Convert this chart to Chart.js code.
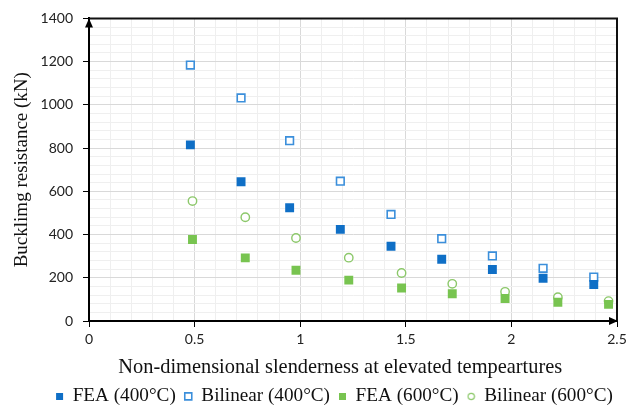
<!DOCTYPE html>
<html>
<head>
<meta charset="utf-8">
<script src="https://cdn.jsdelivr.net/npm/chart.js@4.4.1/dist/chart.umd.min.js"></script>
<style>
html, body { margin: 0; padding: 0; background: #fff; }
#wrap { width: 640px; height: 414px; }
</style>
</head>
<body>
<div id="wrap"><canvas id="chart1"></canvas></div>
<script>
// values
const fea400X = [0.48, 0.72, 0.95, 1.19, 1.43, 1.67, 1.91, 2.15, 2.39];
const fea400Y = [815, 644, 524, 424, 346, 286, 238, 198, 169];
const bil400X = [0.48, 0.72, 0.95, 1.19, 1.43, 1.67, 1.91, 2.15, 2.39];
const bil400Y = [1184, 1032, 834, 647, 493, 381, 301, 244, 203];
const fea600X = [0.49, 0.74, 0.98, 1.23, 1.48, 1.72, 1.97, 2.22, 2.46];
const fea600Y = [377, 292, 235, 189, 153, 126, 104, 87, 77];
const bil600X = [0.49, 0.74, 0.98, 1.23, 1.48, 1.72, 1.97, 2.22, 2.46];
const bil600Y = [555, 480, 384, 293, 222, 172, 135, 110, 92];

const seriesNames = ['FEA (400°C)', 'Bilinear (400°C)', 'FEA (600°C)', 'Bilinear (600°C)'];
const xMajor = [0, 0.5, 1, 1.5, 2, 2.5];
const yMajor = [0, 200, 400, 600, 800, 1000, 1200, 1400];

function pts(xs, ys) {
    return xs.map((x, i) => ({ x: x, y: ys[i] }));
}

function isMajorX(v) {
    return xMajor.some(m => Math.abs(m - v) < 1e-6);
}
function isMajorY(v) {
    return yMajor.some(m => Math.abs(m - v) < 1e-6);
}

const blue = '#0f6fc6';
const blueLight = '#3b8fdb';
const green = '#78c450';
const greenLight = '#8cc86a';

// small ring for the legend (the default one comes out too big)
function smallRing() {
    const cv = document.createElement('canvas');
    cv.width = 9;
    cv.height = 9;
    const c = cv.getContext('2d');
    c.strokeStyle = greenLight;
    c.lineWidth = 1.2;
    c.beginPath();
    c.arc(4.5, 4.5, 3.2, 0, Math.PI * 2);
    c.stroke();
    return cv;
}

// frame on top/right + arrow heads on the axes, legend nudged right/down
const framePlugin = {
    id: 'frame',
    beforeDraw(chart) {
        chart.legend.left += 26;
        chart.legend.right += 26;
        chart.legend.top += 2;
        chart.legend.bottom += 2;
    },
    afterDraw(chart) {
        const a = chart.chartArea;
        const c = chart.ctx;
        c.save();
        c.strokeStyle = '#111';
        c.lineWidth = 2;
        c.beginPath();
        c.moveTo(a.left, a.top);
        c.lineTo(a.right, a.top);
        c.lineTo(a.right, a.bottom);
        c.stroke();
        c.fillStyle = '#000';
        c.beginPath();
        c.moveTo(a.left, a.top);
        c.lineTo(a.left - 4, a.top + 9);
        c.lineTo(a.left + 4, a.top + 9);
        c.closePath();
        c.fill();
        c.beginPath();
        c.moveTo(a.right + 1, a.bottom);
        c.lineTo(a.right - 8, a.bottom - 4);
        c.lineTo(a.right - 8, a.bottom + 4);
        c.closePath();
        c.fill();
        c.restore();
    }
};

const ctx1 = document.getElementById('chart1').getContext('2d');
const myChart1 = new Chart(ctx1, {
    type: 'scatter',
    data: {
        datasets: [{
            label: seriesNames[0],
            data: pts(fea400X, fea400Y),
            pointStyle: 'rect',
            pointRadius: 6.3,
            backgroundColor: blue,
            borderColor: blue,
            borderWidth: 0
        }, {
            label: seriesNames[1],
            data: pts(bil400X, bil400Y),
            pointStyle: 'rect',
            pointRadius: 5.4,
            backgroundColor: '#fff',
            borderColor: blueLight,
            borderWidth: 1.6
        }, {
            label: seriesNames[2],
            data: pts(fea600X, fea600Y),
            pointStyle: 'rect',
            pointRadius: 6.3,
            backgroundColor: green,
            borderColor: green,
            borderWidth: 0
        }, {
            label: seriesNames[3],
            data: pts(bil600X, bil600Y),
            pointStyle: 'circle',
            pointRadius: 4.2,
            backgroundColor: '#fff',
            borderColor: greenLight,
            borderWidth: 1.4
        }]
    },
    options: {
        responsive: true,
        maintainAspectRatio: false,
        animation: false,
        layout: { padding: { top: 17, right: 23, left: 0, bottom: 0 } },
        plugins: {
            tooltip: { enabled: false },
            legend: {
                position: 'bottom',
                labels: {
                    usePointStyle: true,
                    boxWidth: 7,
                    boxHeight: 7,
                    padding: 9,
                    color: '#111',
                    font: { family: 'Liberation Serif', size: 19.2 },
                    generateLabels: (chart) => {
                        const items = Chart.defaults.plugins.legend.labels.generateLabels(chart);
                        items[3].pointStyle = smallRing();
                        return items;
                    }
                }
            }
        },
        scales: {
            x: {
                type: 'linear',
                min: 0,
                max: 2.5,
                afterFit: (s) => { s.height = 54.8; },
                border: { color: '#000', width: 2 },
                grid: {
                    color: (c) => isMajorX(c.tick.value) ? '#d9d9d9' : '#efefef',
                    tickColor: (c) => isMajorX(c.tick.value) ? '#000' : 'rgba(0,0,0,0)',
                    tickLength: 6
                },
                ticks: {
                    stepSize: 0.1,
                    autoSkip: false,
                    maxRotation: 0,
                    padding: 4,
                    color: '#222',
                    font: { family: 'Lato', size: 14 },
                    callback: (v) => isMajorX(v) ? String(Math.round(v * 10) / 10) : ''
                },
                title: {
                    display: true,
                    text: 'Non-dimensional slenderness at elevated tempeartures     ',
                    color: '#111',
                    padding: { top: 0, bottom: -4 },
                    font: { family: 'Liberation Serif', size: 20.4 }
                }
            },
            y: {
                type: 'linear',
                min: 0,
                max: 1400,
                afterFit: (s) => { s.width = 89; },
                border: { color: '#000', width: 2 },
                grid: {
                    color: (c) => isMajorY(c.tick.value) ? '#d9d9d9' : '#efefef',
                    tickColor: (c) => isMajorY(c.tick.value) ? '#000' : 'rgba(0,0,0,0)',
                    tickLength: 6
                },
                ticks: {
                    stepSize: 40,
                    autoSkip: false,
                    padding: 10,
                    color: '#222',
                    font: { family: 'Lato', size: 14 },
                    callback: (v) => isMajorY(v) ? String(v) : ''
                },
                title: {
                    display: true,
                    text: 'Bucklimg resistance (kN)',
                    color: '#111',
                    padding: { top: 10.5, bottom: 0 },
                    font: { family: 'Liberation Serif', size: 19 }
                }
            }
        }
    },
    plugins: [framePlugin]
});
</script>
</body>
</html>
